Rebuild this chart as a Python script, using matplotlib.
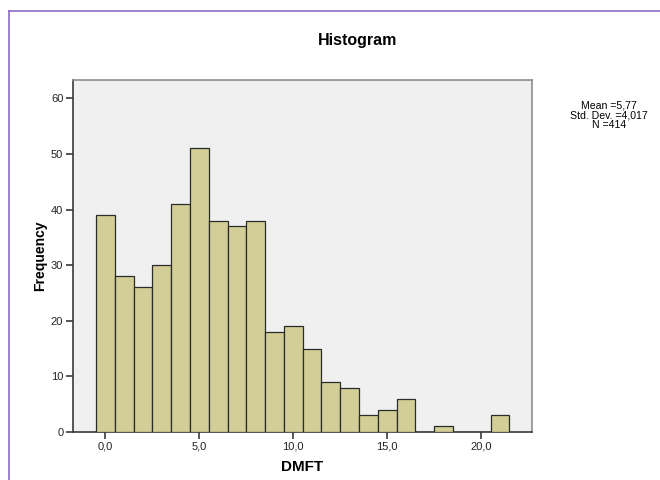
import matplotlib
matplotlib.use("Agg")
import matplotlib.pyplot as plt

# Data
bin_centers = list(range(0, 22))
frequencies = [39, 28, 26, 30, 41, 51, 38, 37, 38, 18, 19, 15, 9, 8, 3, 4, 6, 0, 1, 0, 0, 3]
x_ticks = [0, 5, 10, 15, 20]
x_tick_labels = ["0,0", "5,0", "10,0", "15,0", "20,0"]
y_ticks = [0, 10, 20, 30, 40, 50, 60]
stats_text = "Mean =5,77\nStd. Dev. =4,017\nN =414"

plt.rcParams['font.family'] = ['Liberation Sans', 'DejaVu Sans']

W, H = 660, 480
fig = plt.figure(figsize=(6.6, 4.8), dpi=100)
fig.patch.set_facecolor('white')

# purple outer frame (top and left)
fig.add_artist(plt.Line2D([9 / W, 1.0], [1 - 11 / H, 1 - 11 / H], color='#8a6cc4', lw=1.2))
fig.add_artist(plt.Line2D([9 / W, 9 / W], [0.0, 1 - 11 / H], color='#8a6cc4', lw=1.2))

left, right, top, bottom = 73, 532, 80, 432
ax = fig.add_axes([left / W, 1 - bottom / H, (right - left) / W, (bottom - top) / H])
ax.set_facecolor('#f0f0f0')

ax.bar(bin_centers, frequencies, width=1.0, color='#d3ce97', edgecolor='#2b2b2b', linewidth=0.9, zorder=3)

ax.set_xlim(-1.72, 22.7)
ax.set_ylim(0, 63.3)
ax.set_xticks(x_ticks)
ax.set_xticklabels(x_tick_labels)
ax.set_yticks(y_ticks)

for s in ['top', 'right']:
    ax.spines[s].set_color('#8c8c8c')
    ax.spines[s].set_linewidth(1.2)
for s in ['left', 'bottom']:
    ax.spines[s].set_color('#3a3a3a')
    ax.spines[s].set_linewidth(1.2)

ax.tick_params(axis='both', direction='out', length=5, width=1.2, color='#3a3a3a',
               labelsize=8, labelcolor='#222222', pad=2)

ax.set_xlabel('DMFT', fontsize=11, fontweight='bold', labelpad=6)
ax.set_ylabel('Frequency', fontsize=10, fontweight='bold', labelpad=3)

fig.text(358 / W, 1 - 41 / H, 'Histogram', ha='center', va='center', fontsize=11.5, fontweight='bold')
fig.text(609 / W, 1 - 115 / H, stats_text, ha='center', va='center', fontsize=7.6, linespacing=0.95)

fig.savefig('out.png', dpi=100)
